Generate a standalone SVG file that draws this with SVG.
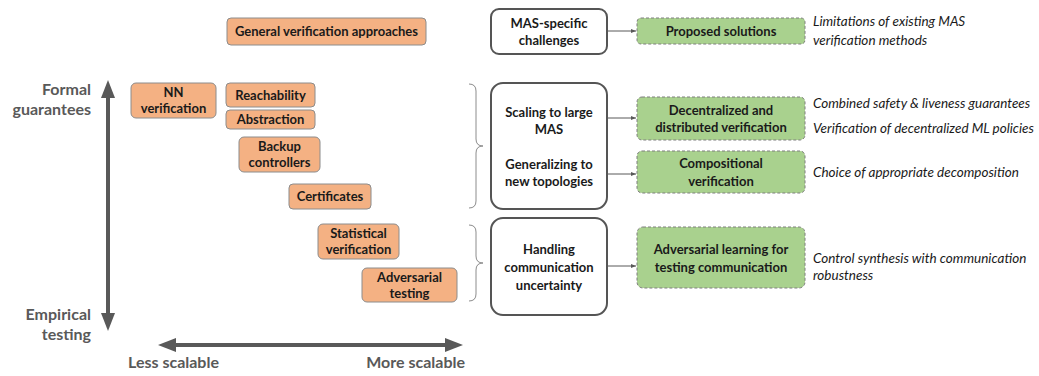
<svg xmlns="http://www.w3.org/2000/svg" width="1039" height="376" viewBox="0 0 1039 376">
  <style>
    text { font-family: Lato, "Open Sans", "Liberation Sans", sans-serif; }
    .method rect { fill: #F4B183; stroke: #8c8c8c; stroke-width: 1; }
    .method text { font-size: 13px; font-weight: bold; fill: #1a1a1a; text-anchor: middle; }
    .challenge rect { fill: #ffffff; stroke: #555555; stroke-width: 2; }
    .challenge text { font-size: 13px; font-weight: bold; fill: #1a1a1a; text-anchor: middle; }
    .solution rect { fill: #A9D18E; stroke: #7f7f7f; stroke-width: 1; stroke-dasharray: 3 2; }
    .solution text { font-size: 13px; font-weight: bold; fill: #1a1a1a; text-anchor: middle; }
    .note { font-size: 13.5px; font-style: italic; fill: #1a1a1a; }
    .axislabel { font-size: 16px; font-weight: bold; fill: #595959; }
    .axis { stroke: #595959; stroke-width: 4; fill: none; }
    .link { stroke: #595959; stroke-width: 1; fill: none; }
    .brace { stroke: #8c8c8c; stroke-width: 1; fill: none; }
  </style>
  <defs>
    <marker id="thin" markerWidth="6" markerHeight="6" refX="5" refY="3" orient="auto" markerUnits="userSpaceOnUse">
      <path d="M0,1 L5,3 L0,5 Z" fill="#595959"/>
    </marker>
  </defs>

  <!-- axes -->
  <g id="axes">
    <line class="axis" x1="108" y1="98" x2="108" y2="314"/>
    <path d="M101,98 L108,80 L115,98 Z" fill="#595959"/>
    <path d="M101,313 L108,331 L115,313 Z" fill="#595959"/>
    <line class="axis" x1="176" y1="345" x2="446" y2="345"/>
    <path d="M176,338 L158,345 L176,352 Z" fill="#595959"/>
    <path d="M445,338 L463,345 L445,352 Z" fill="#595959"/>
    <text class="axislabel" x="91" y="95" text-anchor="end">Formal</text>
    <text class="axislabel" x="91" y="115" text-anchor="end">guarantees</text>
    <text class="axislabel" x="91" y="320" text-anchor="end">Empirical</text>
    <text class="axislabel" x="91" y="340" text-anchor="end">testing</text>
    <text class="axislabel" x="128" y="368">Less scalable</text>
    <text class="axislabel" x="465" y="368" text-anchor="end">More scalable</text>
  </g>

  <!-- general verification approaches -->
  <g id="general" class="method">
    <rect x="227" y="18" width="199" height="27" rx="4"/>
    <text x="326.5" y="36">General verification approaches</text>
  </g>
  <g id="nn" class="method">
    <rect x="131" y="83" width="85" height="35" rx="5"/>
    <text x="173.5" y="97">NN</text>
    <text x="173.5" y="113">verification</text>
  </g>
  <g id="reachability" class="method">
    <rect x="226" y="83" width="89" height="24" rx="4"/>
    <text x="270.5" y="100">Reachability</text>
  </g>
  <g id="abstraction" class="method">
    <rect x="226" y="110" width="89" height="19" rx="4"/>
    <text x="270.5" y="124">Abstraction</text>
  </g>
  <g id="backup" class="method">
    <rect x="239" y="137" width="81" height="35" rx="5"/>
    <text x="279.5" y="151">Backup</text>
    <text x="279.5" y="167">controllers</text>
  </g>
  <g id="certificates" class="method">
    <rect x="289" y="184" width="82" height="25" rx="4"/>
    <text x="330" y="201">Certificates</text>
  </g>
  <g id="statistical" class="method">
    <rect x="318" y="224" width="81" height="35" rx="5"/>
    <text x="358.5" y="238">Statistical</text>
    <text x="358.5" y="254">verification</text>
  </g>
  <g id="adversarial" class="method">
    <rect x="362" y="268" width="95" height="34" rx="5"/>
    <text x="409.5" y="282">Adversarial</text>
    <text x="409.5" y="298">testing</text>
  </g>

  <!-- braces grouping methods -->
  <g id="braces">
    <path class="brace" d="M469,84 Q476,84 476,91 L476,139 Q476,146 483,146 Q476,146 476,153 L476,201 Q476,208 469,208"/>
    <path class="brace" d="M469,225 Q476,225 476,232 L476,256 Q476,263 483,263 Q476,263 476,270 L476,294 Q476,301 469,301"/>
  </g>

  <!-- MAS-specific challenges -->
  <g id="challenges-header" class="challenge">
    <rect x="491" y="9" width="116" height="45" rx="8"/>
    <text x="549" y="28">MAS-specific</text>
    <text x="549" y="45">challenges</text>
  </g>
  <g id="scaling" class="challenge">
    <rect x="491" y="83" width="116" height="126" rx="12"/>
    <text x="549" y="117">Scaling to large</text>
    <text x="549" y="134">MAS</text>
    <text x="549" y="169">Generalizing to</text>
    <text x="549" y="186">new topologies</text>
  </g>
  <g id="communication" class="challenge">
    <rect x="491" y="218" width="116" height="97" rx="12"/>
    <text x="549" y="254">Handling</text>
    <text x="549" y="272">communication</text>
    <text x="549" y="290">uncertainty</text>
  </g>

  <!-- proposed solutions -->
  <g id="solutions-header" class="solution">
    <rect x="637" y="18" width="168" height="26" rx="4"/>
    <text x="721" y="36">Proposed solutions</text>
  </g>
  <g id="decentralized" class="solution">
    <rect x="637" y="97" width="168" height="43" rx="5"/>
    <text x="721" y="115">Decentralized and</text>
    <text x="721" y="132">distributed verification</text>
  </g>
  <g id="compositional" class="solution">
    <rect x="637" y="151" width="168" height="42" rx="5"/>
    <text x="721" y="168">Compositional</text>
    <text x="721" y="186">verification</text>
  </g>
  <g id="adversarial-learning" class="solution">
    <rect x="637" y="227" width="168" height="61" rx="6"/>
    <text x="721" y="254">Adversarial learning for</text>
    <text x="721" y="272">testing communication</text>
  </g>

  <!-- connectors -->
  <g id="connectors">
    <line class="link" x1="607" y1="31" x2="636" y2="31" marker-end="url(#thin)"/>
    <line class="link" x1="607" y1="118" x2="636" y2="118" marker-end="url(#thin)"/>
    <line class="link" x1="607" y1="174" x2="636" y2="174" marker-end="url(#thin)"/>
    <line class="link" x1="607" y1="266" x2="636" y2="266" marker-end="url(#thin)"/>
  </g>

  <!-- notes -->
  <g id="notes">
    <text class="note" x="813" y="26">Limitations of existing MAS</text>
    <text class="note" x="813" y="45">verification methods</text>
    <text class="note" x="813" y="108">Combined safety &amp; liveness guarantees</text>
    <text class="note" x="813" y="133">Verification of decentralized ML policies</text>
    <text class="note" x="813" y="177">Choice of appropriate decomposition</text>
    <text class="note" x="813" y="263">Control synthesis with communication</text>
    <text class="note" x="813" y="280">robustness</text>
  </g>
</svg>
